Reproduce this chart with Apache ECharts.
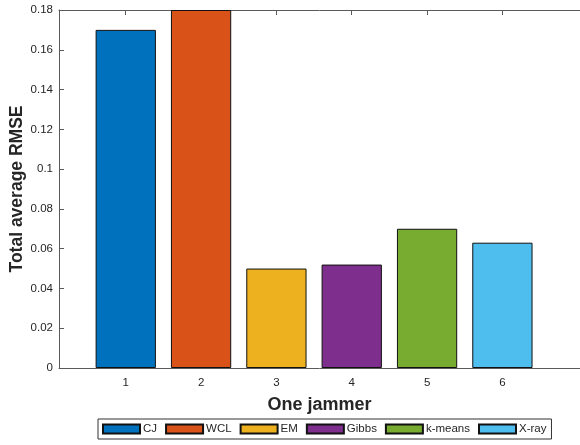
<!DOCTYPE html>
<html>
<head>
<meta charset="utf-8">
<script src="https://cdn.jsdelivr.net/npm/echarts@6/dist/echarts.min.js"></script>
<style>
  html, body { margin: 0; padding: 0; background: #fff; }
  #chart { width: 580px; height: 445px; }
</style>
</head>
<body>
<div id="chart"></div>
<script>
// Total average RMSE per localisation method, one jammer
const methods = ['CJ', 'WCL', 'EM', 'Gibbs', 'k-means', 'X-ray'];
const positions = [1, 2, 3, 4, 5, 6];
const rmse = [0.17, 0.18, 0.05, 0.052, 0.07, 0.063];
const colors = ['#0072BD', '#D95319', '#EDB120', '#7E2F8E', '#77AC30', '#4DBEEE'];
const yTicks = [0, 0.02, 0.04, 0.06, 0.08, 0.1, 0.12, 0.14, 0.16, 0.18];

const xMin = 0.114, xMax = 7.03;
const gridLeft = 59, gridRight = 0, gridTop = 10, gridBottom = 77;
const plotWidth = 580 - gridLeft - gridRight;
const barWidth = 0.8 * plotWidth / (xMax - xMin);

const font = 'Liberation Sans, Arial, Helvetica, sans-serif';
const lineColor = '#5a5a5a';
const textColor = '#262626';

const chart = echarts.init(document.getElementById('chart'), null, { renderer: 'canvas' });

const series = methods.map((name, i) => ({
  name: name,
  type: 'bar',
  xAxisIndex: 0,
  yAxisIndex: 0,
  barWidth: barWidth,
  barGap: '-100%',
  data: [[positions[i], rmse[i]]],
  itemStyle: { color: colors[i], borderColor: '#111', borderWidth: 1 },
  emphasis: { disabled: true },
  animation: false
}));

chart.setOption({
  animation: false,
  textStyle: { fontFamily: font },
  grid: {
    left: gridLeft, right: gridRight, top: gridTop, bottom: gridBottom,
    containLabel: false, outerBoundsMode: 'none'
  },
  legend: {
    data: methods,
    left: 98,
    top: 419,
    orient: 'horizontal',
    itemWidth: 37,
    itemHeight: 9,
    itemGap: 8,
    padding: [3, 5, 3, 4],
    borderColor: '#333',
    borderWidth: 1,
    backgroundColor: '#fff',
    icon: 'rect',
    textStyle: { fontFamily: font, fontSize: 11.5, color: textColor, lineHeight: 14, padding: [0, 0, 0, -2] },
    selectedMode: false
  },
  xAxis: [
    {
      type: 'value',
      min: xMin,
      max: xMax,
      name: 'One jammer',
      nameLocation: 'middle',
      nameGap: 28,
      nameMoveOverlap: false,
      nameTextStyle: { fontFamily: font, fontSize: 18, fontWeight: 'bold', color: textColor },
      axisLine: { show: true, lineStyle: { color: lineColor, width: 1 } },
      axisTick: { show: true, inside: true, length: 5, customValues: positions, lineStyle: { color: lineColor } },
      axisLabel: { show: true, margin: 9, customValues: positions, fontFamily: font, fontSize: 11.5, color: textColor },
      splitLine: { show: false }
    },
    {
      type: 'value',
      position: 'top',
      min: xMin,
      max: xMax,
      axisLine: { show: true, onZero: false, lineStyle: { color: lineColor, width: 1 } },
      axisTick: { show: true, inside: true, length: 5, customValues: positions, lineStyle: { color: lineColor } },
      axisLabel: { show: false },
      splitLine: { show: false }
    }
  ],
  yAxis: [
    {
      type: 'value',
      min: 0,
      max: 0.18,
      interval: 0.02,
      name: 'Total average RMSE',
      nameLocation: 'middle',
      nameGap: 33,
      nameMoveOverlap: false,
      nameTextStyle: { fontFamily: font, fontSize: 17.5, fontWeight: 'bold', color: textColor },
      axisLine: { show: true, lineStyle: { color: lineColor, width: 1 } },
      axisTick: { show: true, inside: true, length: 5, customValues: yTicks, lineStyle: { color: lineColor } },
      axisLabel: { show: true, margin: 6, customValues: yTicks, fontFamily: font, fontSize: 11.5, color: textColor },
      splitLine: { show: false }
    }
  ],
  series: series
});
</script>
</body>
</html>
